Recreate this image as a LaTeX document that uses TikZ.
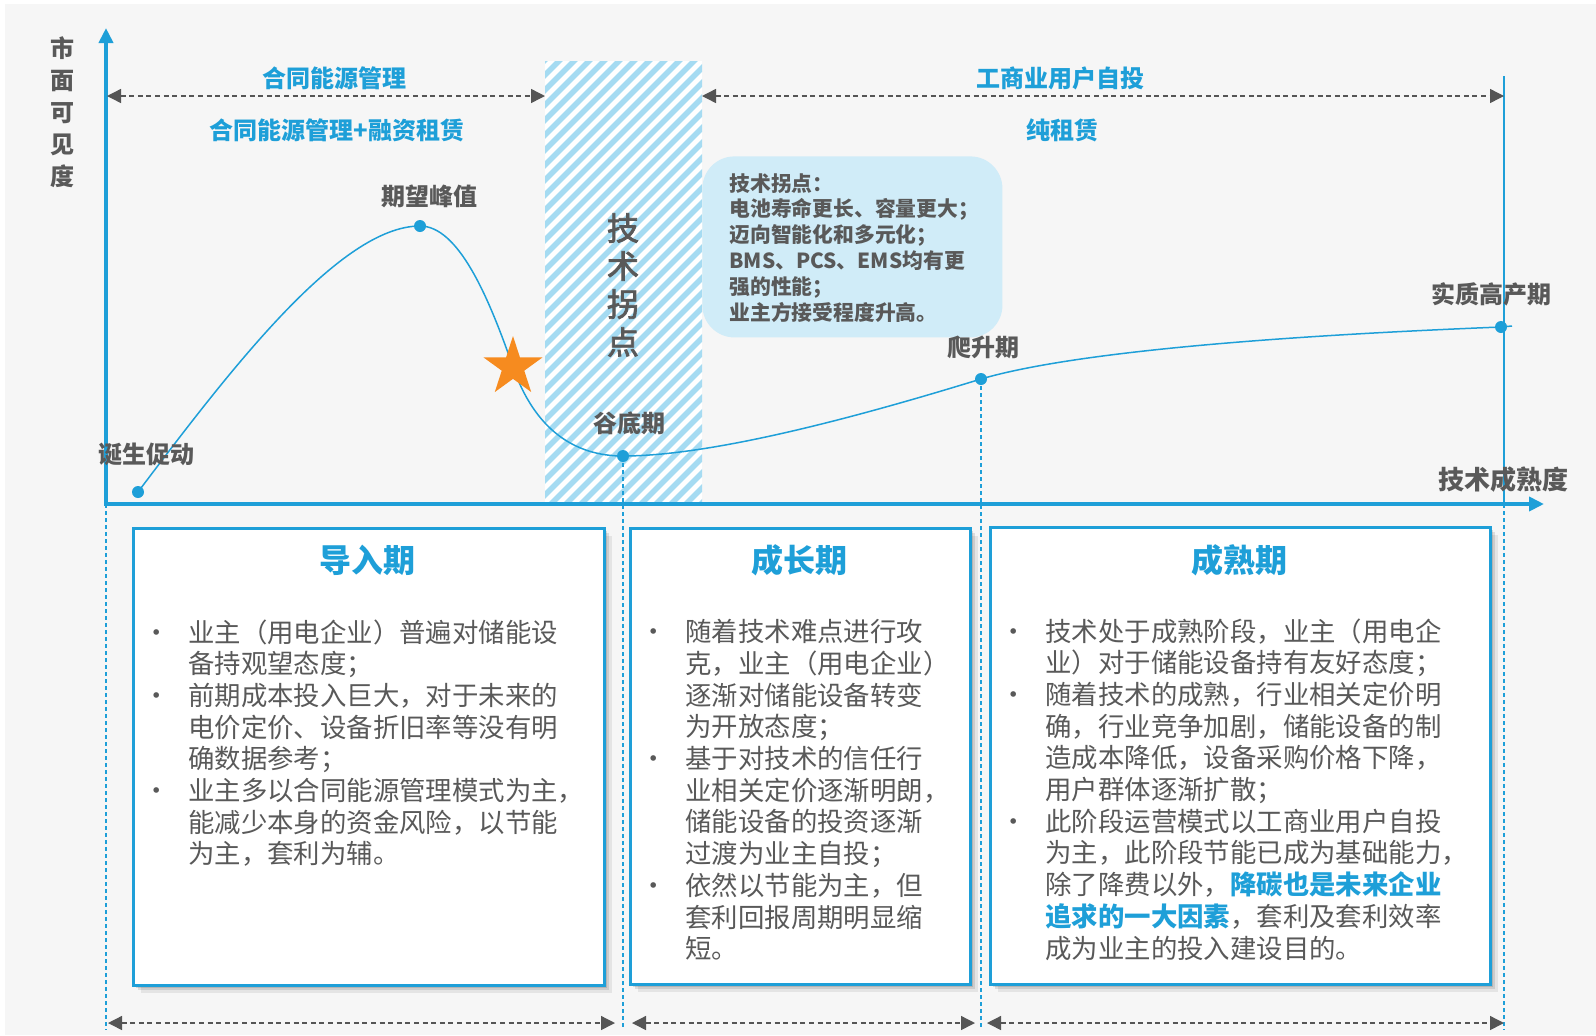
\documentclass[tikz,border=0pt]{standalone}
\usepackage{fontspec}
\setmainfont{Noto Sans CJK SC}
\newfontfamily\medfont{Noto Sans CJK SC}[FakeBold=2.5]
\usetikzlibrary{arrows.meta,shapes.geometric,shadows}
\definecolor{myblue}{HTML}{1E9FD8}
\definecolor{txtgray}{HTML}{595959}
\definecolor{arrgray}{HTML}{555555}
\definecolor{bggray}{HTML}{F6F6F6}
\definecolor{tipfill}{HTML}{D0ECF8}
\definecolor{hatchblue}{HTML}{A5DBF2}
\definecolor{starorange}{HTML}{F68B1F}
\newcommand\bul{\makebox[32pt][c]{•}}
\newcommand\ind{\hspace*{32pt}}
\begin{document}
\begin{tikzpicture}[x=0.5pt,y=-0.5pt,
  lbl/.style={font=\fontsize{12}{14}\selectfont\bfseries, text=txtgray, inner sep=0},
  bluelbl/.style={font=\fontsize{12}{14}\selectfont\bfseries, text=myblue, inner sep=0},
  title/.style={font=\fontsize{16}{18}\selectfont\bfseries, text=myblue, inner sep=0},
  bodytext/.style={font=\fontsize{13.2}{15.85}\selectfont, text=txtgray, inner sep=0, align=left, anchor=north west},
  tiptext/.style={font=\fontsize{10.4}{12.9}\selectfont\bfseries, text=txtgray, inner sep=0, align=left, anchor=north west},
  stagebox/.style={draw=myblue, line width=1.5pt, fill=white, anchor=north west, inner sep=0,
     drop shadow={shadow xshift=1.2pt, shadow yshift=-1.2pt, opacity=0.12, fill=black},
     drop shadow={shadow xshift=2.4pt, shadow yshift=-2.4pt, opacity=0.10, fill=black},
     drop shadow={shadow xshift=3.6pt, shadow yshift=-3.6pt, opacity=0.07, fill=black}},
  tipbox/.style={fill=tipfill, rounded corners=16pt, anchor=north west, inner sep=0},
  dot/.style={circle, fill=myblue, inner sep=0, minimum size=6pt},
  axis/.style={draw=myblue, line width=2pt},
  spanarrow/.style={draw=arrgray, line width=0.7pt, dash pattern=on 2.5pt off 1.8pt,
     {Triangle[width=7pt,length=7pt]}-{Triangle[width=7pt,length=7pt]}},
  guide/.style={draw=myblue, line width=0.6pt, dash pattern=on 2pt off 1.5pt},
  curve/.style={draw=myblue, line width=0.75pt}
]
\useasboundingbox (0,0) rectangle (1596,1035);
\fill[white] (0,0) rectangle (1596,1035);
\fill[bggray] (5,4) rectangle (1596,1035);

% hatched band
\begin{scope}
\clip (545,61) rectangle (702,504);
\fill[white] (545,61) rectangle (702,504);
\foreach \i in {0,...,44} \draw[hatchblue, line width=2.7pt] ({80+15*\i},510) -- ++(470,-470);
\end{scope}

% coordinates
\coordinate (c1) at (138,492);
\coordinate (c2) at (420,226);
\coordinate (cs) at (513,367);
\coordinate (c3) at (623,456);
\coordinate (c4) at (981,379);
\coordinate (c5) at (1501,327);
\coordinate (c6) at (1512,326);

% tip box
\node[tipbox, minimum width=150pt, minimum height=90.5pt] (tip) at (702,156) {};
\node[tiptext] (tiptxt) at (729,173) {技术拐点：\\%
电池寿命更长、容量更大；\\%
迈向智能化和多元化；\\%
BMS、PCS、EMS均有更\\%
强的性能；\\%
业主方接受程度升高。};

% guide lines
\coordinate (g0a) at (106,504); \coordinate (g0b) at (106,1030);
\coordinate (g1b) at (623,1030);
\coordinate (g2b) at (981,1030);
\coordinate (g3a) at (1504,76); \coordinate (g3m) at (1504,504); \coordinate (g3b) at (1504,1030);
\draw[guide] (g0a) -- (g0b);
\draw[guide] (c3) -- (g1b);
\draw[guide] (c4) -- (g2b);
\draw[myblue, line width=0.6pt] (g3a) -- (g3m);
\draw[guide] (g3m) -- (g3b);

% curve
\draw[curve] (c1) .. controls (230,370) and (340,226) .. (c2)
  .. controls (458,226) and (488,295) .. (cs)
  .. controls (535,430) and (575,456) .. (c3)
  .. controls (720,456) and (880,410) .. (c4)
  .. controls (1080,350) and (1300,335) .. (c5) -- (c6);

% axes
\coordinate (ytip) at (106,28);
\coordinate (origin) at (106,504);
\coordinate (xtip) at (1544,504);
\draw[axis, {Triangle[width=7pt,length=7.5pt]}-{Triangle[width=7pt,length=7.5pt]}] (ytip) -- (origin) -- (xtip);

% dots and star
\node[dot] (d1) at (c1) {};
\node[dot] (d2) at (c2) {};
\node[dot] (d3) at (c3) {};
\node[dot] (d4) at (c4) {};
\node[dot] (d5) at (c5) {};
\node[star, star points=5, star point ratio=2.618, fill=starorange, minimum size=31pt, inner sep=0] (st) at (cs) {};

% curve labels
\node[lbl] (l1) at (146,454) {诞生促动};
\node[lbl] (l2) at (429,196) {期望峰值};
\node[lbl] (l3) at (629,423) {谷底期};
\node[lbl] (l4) at (983,347) {爬升期};
\node[lbl] (l5) at (1491,294) {实质高产期};
\node[lbl, font=\fontsize{13}{15}\selectfont\bfseries] (xl) at (1503,480) {技术成熟度};
\node[lbl, align=center, font=\fontsize{12}{16}\selectfont\bfseries] (yl) at (62,112) {市\\面\\可\\见\\度};
\node[inner sep=0, align=center, text=txtgray, font=\medfont\fontsize{16}{19}\selectfont] (tp) at (623,285) {技\\术\\拐\\点};

% top spans
\coordinate (s1a) at (107,96); \coordinate (s1b) at (545,96);
\coordinate (s2a) at (702,96); \coordinate (s2b) at (1504,96);
\draw[spanarrow] (s1a) -- (s1b);
\draw[spanarrow] (s2a) -- (s2b);
\node[bluelbl] (m1) at (334,78) {合同能源管理};
\node[bluelbl] (m2) at (337,130) {合同能源管理+融资租赁};
\node[bluelbl] (m3) at (1060,78) {工商业用户自投};
\node[bluelbl] (m4) at (1062,130) {纯租赁};

% bottom spans
\coordinate (u1a) at (108,1023); \coordinate (u1b) at (615,1023);
\coordinate (u2a) at (632,1023); \coordinate (u2b) at (975,1023);
\coordinate (u3a) at (987,1023); \coordinate (u3b) at (1504,1023);
\draw[spanarrow] (u1a) -- (u1b);
\draw[spanarrow] (u2a) -- (u2b);
\draw[spanarrow] (u3a) -- (u3b);

% stage boxes
\node[stagebox, minimum width=235.5pt, minimum height=228.5pt] (b1) at (132,527) {};
\node[stagebox, minimum width=170pt, minimum height=228pt] (b2) at (629,527) {};
\node[stagebox, minimum width=250pt, minimum height=228.5pt] (b3) at (989,526) {};
\node[title] (h1) at (367,560) {导入期};
\node[title] (h2) at (799,560) {成长期};
\node[title] (h3) at (1239,560) {成熟期};

\node[bodytext] (t1) at (124,619) {\bul 业主（用电企业）普遍对储能设\\%
\ind 备持观望态度；\\%
\bul 前期成本投入巨大，对于未来的\\%
\ind 电价定价、设备折旧率等没有明\\%
\ind 确数据参考；\\%
\bul 业主多以合同能源管理模式为主，\\%
\ind 能减少本身的资金风险，以节能\\%
\ind 为主，套利为辅。};

\node[bodytext] (t2) at (621,619) {\bul 随着技术难点进行攻\\%
\ind 克，业主（用电企业）\\%
\ind 逐渐对储能设备转变\\%
\ind 为开放态度；\\%
\bul 基于对技术的信任行\\%
\ind 业相关定价逐渐明朗，\\%
\ind 储能设备的投资逐渐\\%
\ind 过渡为业主自投；\\%
\bul 依然以节能为主，但\\%
\ind 套利回报周期明显缩\\%
\ind 短。};

\node[bodytext] (t3) at (981,618) {\bul 技术处于成熟阶段，业主（用电企\\%
\ind 业）对于储能设备持有友好态度；\\%
\bul 随着技术的成熟，行业相关定价明\\%
\ind 确，行业竞争加剧，储能设备的制\\%
\ind 造成本降低，设备采购价格下降，\\%
\ind 用户群体逐渐扩散；\\%
\bul 此阶段运营模式以工商业用户自投\\%
\ind 为主，此阶段节能已成为基础能力，\\%
\ind 除了降费以外，{\color{myblue}\bfseries 降碳也是未来企业}\\%
\ind {\color{myblue}\bfseries 追求的一大因素}，套利及套利效率\\%
\ind 成为业主的投入建设目的。};
\end{tikzpicture}
\end{document}
